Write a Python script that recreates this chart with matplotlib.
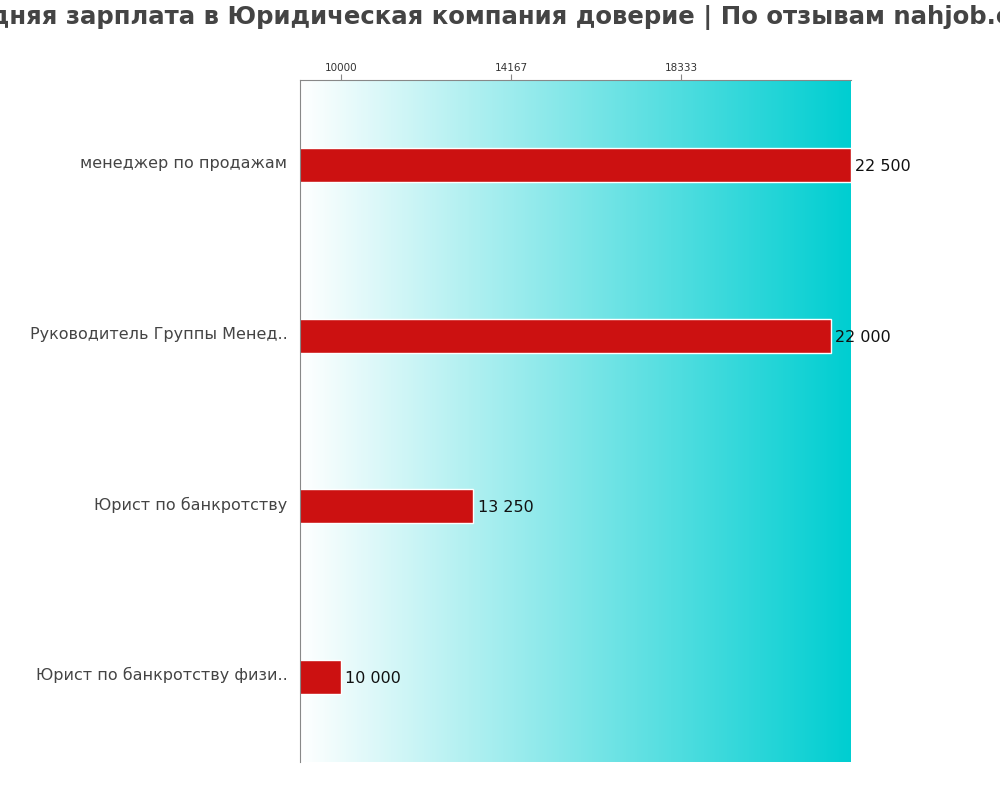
import matplotlib
matplotlib.use("Agg")
import matplotlib.pyplot as plt
import matplotlib.transforms as mtransforms
import numpy as np
from matplotlib.colors import LinearSegmentedColormap

categories = ["менеджер по продажам", "Руководитель Группы Менед..",
              "Юрист по банкротству", "Юрист по банкротству физи.."]
values = [22500, 22000, 13250, 10000]
value_labels = ["22 500", "22 000", "13 250", "10 000"]
tick_values = [10000, 14167, 18333]
title = "Средняя зарплата в Юридическая компания доверие | По отзывам nahjob.com"

xmin, xmax = 9000, 22500

fig = plt.figure(figsize=(10, 8), dpi=100)
ax = fig.add_axes([0.300, 0.0475, 0.551, 0.8525])

cmap = LinearSegmentedColormap.from_list("g", ["#ffffff", "#00ced1"])
grad = np.linspace(0, 1, 256).reshape(1, -1)
ax.imshow(grad, cmap=cmap, aspect="auto", extent=[xmin, xmax, 3.5, -0.5],
          zorder=0)

y = np.arange(len(categories))
ax.barh(y, values, height=0.2, color="#cc1111", edgecolor="white",
        linewidth=1, zorder=2)
for yi, v, lab in zip(y, values, value_labels):
    ax.text(v + 100, yi + 0.01, lab, va="center", ha="left", fontsize=11.5,
            color="#111111", zorder=3)

ax.set_xlim(xmin, xmax)
ax.set_ylim(3.5, -0.5)
ax.set_yticks(y)
ax.set_yticklabels(categories, fontsize=11.5, color="#444444")
ax.tick_params(axis="y", length=0, pad=9)
shift = mtransforms.ScaledTranslation(0, 2.2 / 72, fig.dpi_scale_trans)
for lbl in ax.get_yticklabels():
    lbl.set_transform(lbl.get_transform() + shift)
ax.xaxis.tick_top()
ax.set_xticks(tick_values)
ax.set_xticklabels([str(t) for t in tick_values], fontsize=7.5, color="#333333")
ax.tick_params(axis="x", length=4, color="#888888", pad=1)
for s in ["right", "bottom"]:
    ax.spines[s].set_visible(False)
for s in ["left", "top"]:
    ax.spines[s].set_color("#888888")

fig.text(0.495, 0.978, title, ha="center", va="center", fontsize=17.6,
         fontweight="bold", color="#444444")

fig.savefig("out.png", dpi=100)
